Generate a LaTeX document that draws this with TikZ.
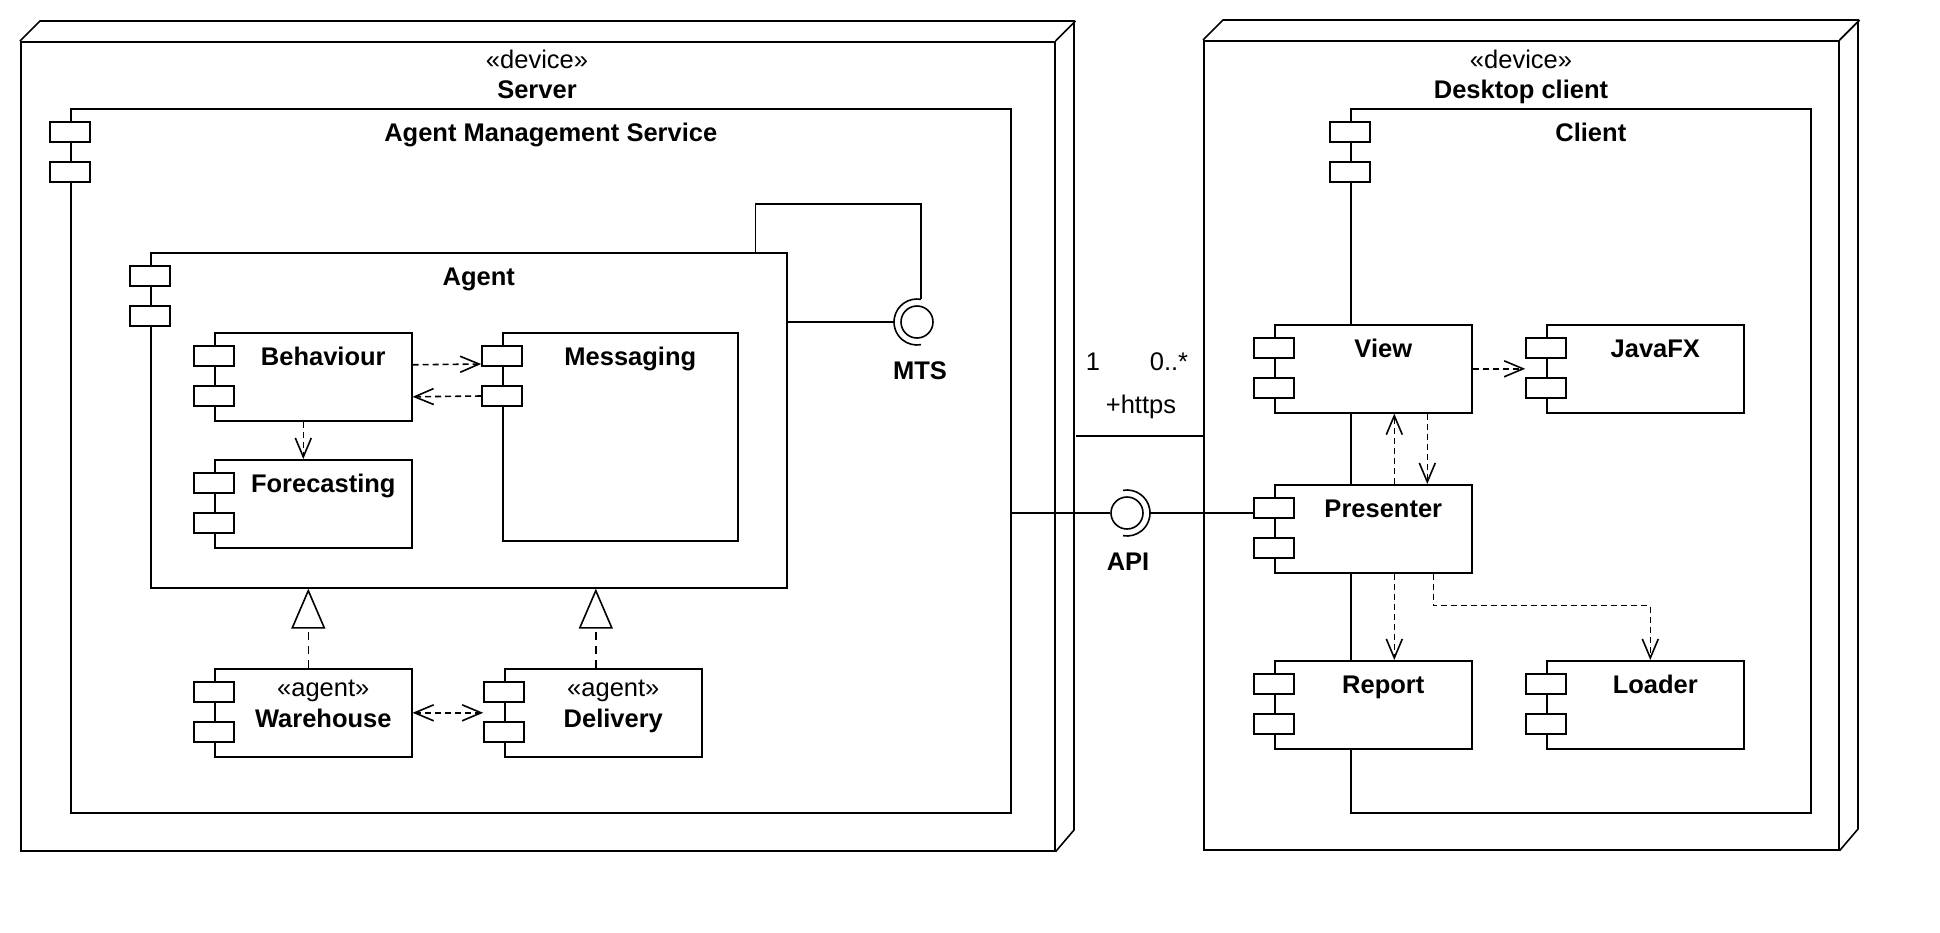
\documentclass[tikz,border=0pt]{standalone}
\usepackage{fontspec}
\setmainfont{Liberation Sans}
\usetikzlibrary{arrows.meta}

\tikzset{
  line/.style={line width=1.6pt},
  device/.style={draw, line width=1.6pt, anchor=north west, inner sep=0pt},
  comp/.style={draw, fill=white, line width=1.6pt, anchor=north west, inner sep=0pt},
  port/.style={draw, fill=white, line width=1.6pt, minimum width=40pt, minimum height=20pt, inner sep=0pt},
  ball/.style={draw, fill=white, circle, line width=1.6pt, minimum size=32pt, inner sep=0pt},
  ttl/.style={font=\bfseries\fontsize{25.5}{30}\selectfont, anchor=base, inner sep=0pt},
  txt/.style={font=\fontsize{25.5}{30}\selectfont, anchor=base, inner sep=0pt},
  dep/.style={line width=1.6pt, dash pattern=on 6pt off 4pt, -{Straight Barb[length=19pt,width=16pt]}},
  realize/.style={line width=1.6pt, dash pattern=on 8pt off 6pt, -{Triangle[length=40pt,width=34pt,fill=white]}}
}

\begin{document}
\begin{tikzpicture}[x=1pt,y=-1pt]
\useasboundingbox (0,0) rectangle (1940,932);
% devices
\node[device, minimum width=1034pt, minimum height=809pt] (server) at (20,41) {};
\draw[line] (server.north west) -- ++(20,-20) -- ++(1034,0) -- ++(0,809) -- (server.south east) (server.north east) -- ++(20,-20);
\node[txt] at (537,68) {«device»};
\node[ttl] at (537,98) {Server};
\node[device, minimum width=635pt, minimum height=809pt] (desktop) at (1203,40) {};
\draw[line] (desktop.north west) -- ++(20,-20) -- ++(635,0) -- ++(0,809) -- (desktop.south east) (desktop.north east) -- ++(20,-20);
\node[txt] at (1521,68) {«device»};
\node[ttl] at (1521,98) {Desktop client};

% components
\node[comp, minimum width=940pt, minimum height=704pt] (ams) at (70,108) {};
\node[comp, minimum width=636pt, minimum height=335pt] (agent) at (150,252) {};
\node[comp, minimum width=197pt, minimum height=88pt] (beh) at (214,332) {};
\node[comp, minimum width=197pt, minimum height=88pt] (fore) at (214,459) {};
\node[comp, minimum width=235pt, minimum height=208pt] (msg) at (502,332) {};
\node[comp, minimum width=197pt, minimum height=88pt] (ware) at (214,668) {};
\node[comp, minimum width=197pt, minimum height=88pt] (deliv) at (504,668) {};
\node[comp, minimum width=460pt, minimum height=704pt] (client) at (1350,108) {};
\node[comp, minimum width=197pt, minimum height=88pt] (view) at (1274,324) {};
\node[comp, minimum width=197pt, minimum height=88pt] (jfx) at (1546,324) {};
\node[comp, minimum width=197pt, minimum height=88pt] (pres) at (1274,484) {};
\node[comp, minimum width=197pt, minimum height=88pt] (report) at (1274,660) {};
\node[comp, minimum width=197pt, minimum height=88pt] (loader) at (1546,660) {};

\foreach \c in {ams,agent,beh,fore,msg,ware,deliv,client,view,jfx,pres,report,loader} {
  \node[port] (\c-p1) at ([yshift=-24pt]\c.north west) {};
  \node[port] (\c-p2) at ([yshift=-64pt]\c.north west) {};
}
\foreach \c/\t in {ams/Agent Management Service,agent/Agent,beh/Behaviour,fore/Forecasting,msg/Messaging,client/Client,view/View,jfx/JavaFX,pres/Presenter,report/Report,loader/Loader}
  \node[ttl] at ([xshift=10pt,yshift=-33pt]\c.north) {\t};
\node[txt] at ([xshift=10pt,yshift=-28pt]ware.north) {«agent»};
\node[ttl] at ([xshift=10pt,yshift=-59pt]ware.north) {Warehouse};
\node[txt] at ([xshift=10pt,yshift=-28pt]deliv.north) {«agent»};
\node[ttl] at ([xshift=10pt,yshift=-59pt]deliv.north) {Delivery};

% interfaces
\node[ball] (mts) at (917,322) {};
\draw[line] ([shift={(280:23)}]mts.center) arc[start angle=280, end angle=80, radius=23];
\draw[line] (agent.east |- mts) -- ([xshift=-23pt]mts.center);
\draw[line] ([xshift=-32pt]agent.north east) -- ++(0,-48) -| ([shift={(280:23)}]mts.center);
\node[ttl] at (920,379) {MTS};
\node[ball] (api) at (1127,513) {};
\draw[line] ([shift={(-100:23)}]api.center) arc[start angle=-100, end angle=100, radius=23];
\draw[line] (ams.east |- api) -- (api.west);
\draw[line] ([xshift=23pt]api.center) -- (api -| pres-p1.west);
\node[ttl] at (1128,570) {API};

% association
\coordinate (https) at (1076,436);
\draw[line] (https) -- (https -| desktop.west);
\node[txt] at (1093,370) {1};
\node[txt] at (1169,370) {0..*};
\node[txt] at (1141,413) {+https};

% dependencies
\draw[dep] ([yshift=12pt]beh.east) -- ([yshift=-8pt]msg-p1.west);
\draw[dep] (msg-p2.west) -- ([yshift=-20pt]beh.east);
\draw[dep] ([xshift=-10pt]beh.south) -- ([xshift=-10pt]fore.north);
\draw[dep, {Straight Barb[length=19pt,width=16pt]}-{Straight Barb[length=19pt,width=16pt]}] (ware.east) -- (ware.east -| deliv-p1.west);
\draw[realize] ([xshift=-5pt]ware.north) -- ([xshift=-5pt]ware.north |- agent.south);
\draw[realize] ([xshift=-7.5pt]deliv.north) -- ([xshift=-7.5pt]deliv.north |- agent.south);
\draw[dep] (view.east) -- (view.east -| jfx-p1.west);
\draw[dep] ([xshift=21pt]pres.north) -- ([xshift=21pt]view.south);
\draw[dep] ([xshift=54pt]view.south) -- ([xshift=54pt]pres.north);
\draw[dep] ([xshift=21pt]pres.south) -- ([xshift=21pt]report.north);
\draw[dep] ([xshift=60pt]pres.south) -- ++(0,32) -| ([xshift=5pt]loader.north);
\end{tikzpicture}
\end{document}
